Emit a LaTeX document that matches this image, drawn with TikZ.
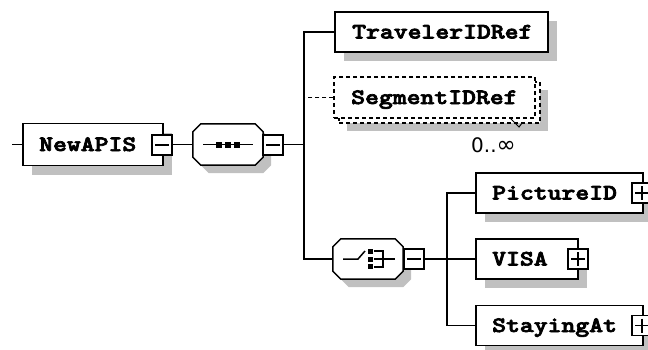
\documentclass[tikz,border=0pt]{standalone}
\usepackage{fontspec}
\newfontfamily\numfont{DejaVu Sans}
\newfontfamily\lblfont{lmmonolt10-bold.otf}[FakeBold=3]
\usetikzlibrary{calc,shadows}
\definecolor{shgray}{RGB}{192,192,192}
\newcommand\wide[1]{\scalebox{1.2}[1]{#1}}
\tikzset{
  conn/.style={line width=1.5pt, black},
  elem/.style={draw, line width=1.5pt, fill=white, rectangle, inner sep=0pt,
    general shadow={fill=shgray, shadow xshift=9pt, shadow yshift=-9pt}},
  dashedelem/.style={draw, line width=1.5pt, fill=white, rectangle, inner sep=0pt, dash pattern=on 4pt off 3pt},
  hollow/.style={rectangle, inner sep=0pt},
  lbl/.style={inner sep=0pt, font=\lblfont\fontsize{22}{22}\selectfont},
  signbox/.style={draw, line width=1.5pt, fill=white, rectangle, inner sep=0pt, minimum size=20pt},
  minusbox/.style={signbox, path picture={\draw[line width=1.5pt] ([xshift=3pt]path picture bounding box.west) -- ([xshift=-3pt]path picture bounding box.east);}},
  plusbox/.style={signbox, path picture={\draw[line width=1.5pt] ([xshift=3pt]path picture bounding box.west) -- ([xshift=-3pt]path picture bounding box.east);
      \draw[line width=1.5pt] ([yshift=-3pt]path picture bounding box.north) -- ([yshift=3pt]path picture bounding box.south);}},
}
\newcommand\octpath[3]{($(#1.north west)+(8+#2,#3)$) -- ($(#1.north east)+(-8+#2,#3)$) -- ($(#1.north east)+(#2,8+#3)$) -- ($(#1.south east)+(#2,-8+#3)$) -- ($(#1.south east)+(-8+#2,#3)$) -- ($(#1.south west)+(8+#2,#3)$) -- ($(#1.south west)+(#2,-8+#3)$) -- ($(#1.north west)+(#2,8+#3)$) -- cycle}
\begin{document}
\begin{tikzpicture}[x=1pt,y=-1pt]
\clip (0,0) rectangle (648,349);
\fill[white] (0,0) rectangle (648,349);

% NewAPIS
\node[elem, minimum width=140pt, minimum height=42pt] (newapis) at (93,144.5) {};
\node[lbl, anchor=base west] (newapist) at (39,151) {\wide{NewAPIS}};
\node[minusbox] (newapism) at (162,145) {};
\coordinate (start) at (12,144.5);

% sequence compositor
\node[hollow, minimum width=70pt, minimum height=41pt] (seq) at (228,144.5) {};
\fill[shgray] \octpath{seq}{8}{8};
\filldraw[conn, fill=white] \octpath{seq}{0}{0};
\draw[conn] ($(seq.center)+(-25,0)$) -- ($(seq.center)+(25,0)$);
\foreach \dx in {-9,0,9} \fill ($(seq.center)+(\dx-3,-3)$) rectangle +(6,6);
\node[minusbox] (seqm) at (273,145) {};
\coordinate (j1) at (304,144.5);

% children of sequence
\node[elem, minimum width=213pt, minimum height=40pt] (trav) at (441.5,32) {};
\node[lbl, anchor=base west] (travt) at (352,38.5) {\wide{TravelerIDRef}};

\node[hollow, minimum width=201pt, minimum height=41pt] (segback) at (439.5,102.5) {};
\fill[shgray] ($(segback.north west)+(8,8)$) rectangle ($(segback.south east)+(8,8)$);
\filldraw[conn, fill=white, dash pattern=on 4pt off 3pt] (segback.north west) rectangle (segback.south east);
\node[dashedelem, minimum width=201pt, minimum height=41pt] (seg) at (434.5,97.5) {};
\node[lbl, anchor=base west] (segt) at (351,104) {\wide{SegmentIDRef}};
\draw[line width=1pt] (510,118) -- (519,127) -- (522,123);
\node[inner sep=0pt, anchor=base west, font=\numfont\fontsize{20}{20}\selectfont] (occ) at (471,152) {0..{\fontsize{23}{23}\selectfont∞}};

% choice compositor
\node[hollow, minimum width=70pt, minimum height=40pt] (cho) at (368,259) {};
\fill[shgray] \octpath{cho}{8}{8};
\filldraw[conn, fill=white] \octpath{cho}{0}{0};
\draw[conn] ($(cho.center)+(-25,0)$) -- ($(cho.center)+(-10,0)$) -- ($(cho.center)+(-3,-8)$);
\foreach \dy in {-10,-2.5,5} \fill ($(cho.center)+(0,\dy)$) rectangle +(5,5);
\draw[conn] ($(cho.center)+(6,-8)$) -- ($(cho.center)+(15,-8)$) -- ($(cho.center)+(15,8)$) -- ($(cho.center)+(6,8)$);
\draw[conn] ($(cho.center)+(6,0)$) -- ($(cho.center)+(27,0)$);
\node[minusbox] (chom) at (414,259) {};
\coordinate (j2) at (447,259);

% children of choice
\node[elem, minimum width=167pt, minimum height=40pt] (pic) at (559.5,193) {};
\node[lbl, anchor=base west] (pict) at (492,199.5) {\wide{PictureID}};
\node[plusbox] (picp) at (642,193) {};

\node[elem, minimum width=102pt, minimum height=40pt] (visa) at (527,259) {};
\node[lbl, anchor=base west] (visat) at (492,265.5) {\wide{VISA}};
\node[plusbox] (visap) at (578,259) {};

\node[elem, minimum width=167pt, minimum height=40pt] (stay) at (559.5,325.5) {};
\node[lbl, anchor=base west] (stayt) at (492,332) {\wide{StayingAt}};
\node[plusbox] (stayp) at (642,325.5) {};

% connectors
\draw[conn] (start) -- (newapis.west);
\draw[conn] (newapism.east |- newapis.east) -- (seq.west);
\draw[conn] (seqm.east |- j1) -- (j1);
\draw[conn] (trav.west) -| (j1) |- (cho.west);
\draw[conn, dash pattern=on 4pt off 3pt] (seg.west) -- (seg.west -| j1);
\draw[conn] (chom.east |- j2) -- (j2);
\draw[conn] (pic.west) -| (j2) |- (stay.west);
\draw[conn] (j2) -- (visa.west);
\end{tikzpicture}
\end{document}
